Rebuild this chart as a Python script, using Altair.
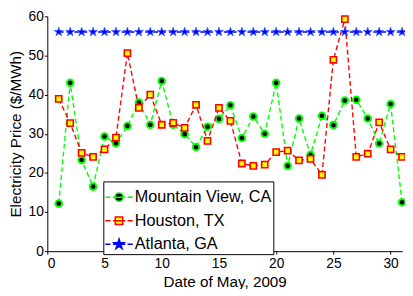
import altair as alt
import pandas as pd

days = list(range(1, 32))
cities = ["Mountain View, CA", "Houston, TX", "Atlanta, GA"]
mountain_view = [12.2, 43.0, 23.3, 16.5, 29.3, 27.6, 32.0, 38.0, 32.3, 43.5,
                 32.3, 29.9, 26.6, 31.8, 33.8, 37.3, 28.9, 34.4, 30.0, 43.0,
                 21.8, 33.9, 24.6, 34.6, 32.2, 38.5, 38.7, 33.9, 27.5, 37.6, 12.5]
houston = [38.9, 32.7, 25.1, 24.1, 26.0, 29.0, 50.6, 36.6, 40.0, 32.3,
           32.8, 31.5, 37.4, 28.2, 36.6, 33.3, 22.4, 21.8, 22.1, 25.3,
           25.7, 23.2, 23.6, 19.5, 48.9, 59.3, 24.1, 24.9, 32.9, 26.0, 24.1]
atlanta = [56.0, 56.0, 56.0, 56.0, 56.0, 56.0, 56.0, 56.0, 56.0, 56.0,
           56.0, 56.0, 56.0, 56.0, 56.0, 56.0, 56.0, 56.0, 56.0, 56.0,
           56.0, 56.0, 56.0, 56.0, 56.0, 56.0, 56.0, 56.0, 56.0, 56.0, 56.0]
x_ticks = [0, 5, 10, 15, 20, 25, 30]
y_ticks = [0, 10, 20, 30, 40, 50, 60]

series = [mountain_view, houston, atlanta]
frames = []
for name, vals in zip(cities, series):
    frames.append(pd.DataFrame({"day": days, "price": vals, "city": name}))
df = pd.concat(frames, ignore_index=True)

FONT = "Liberation Sans"
x = alt.X("day:Q", scale=alt.Scale(domain=[0, 31], nice=False, zero=False),
          axis=alt.Axis(values=x_ticks, title="Date of May, 2009", format="d"))
y = alt.Y("price:Q", scale=alt.Scale(domain=[0, 60], nice=False),
          axis=alt.Axis(values=y_ticks, title="Electricity Price ($/MWh)", format="d"))

STAR = ("M0,-1L0.2245,-0.309L0.9511,-0.309L0.3633,0.118L0.5878,0.809L0,0.382"
        "L-0.5878,0.809L-0.3633,0.118L-0.9511,-0.309L-0.2245,-0.309Z")

styles = {
    "Mountain View, CA": dict(line="#00ff00", shape="circle", fill="#000000", stroke="#00ff00", size=45, sw=2),
    "Houston, TX": dict(line="#ff0000", shape="square", fill="#ffff00", stroke="#ff0000", size=40, sw=1.6),
    "Atlanta, GA": dict(line="#0000ff", shape=STAR, fill="#0000ff", stroke="#4466ff", size=95, sw=0.8),
}

layers = []
for name in cities:
    s = styles[name]
    sub = alt.Chart(df).transform_filter(alt.datum.city == name)
    layers.append(sub.mark_line(color=s["line"], strokeDash=[5, 3], strokeWidth=1.4).encode(x=x, y=y))
    layers.append(sub.mark_point(shape=s["shape"], filled=True, fill=s["fill"], stroke=s["stroke"],
                                 strokeWidth=s["sw"], size=s["size"], opacity=1).encode(x=x, y=y))

dash = "M-1,0H-0.62M-0.45,0H0.45M0.62,0H1"
circle = dash + "M0.3,0A0.3,0.3,0,1,1,-0.3,0A0.3,0.3,0,1,1,0.3,0Z"
square = dash + "M-0.27,-0.27H0.27V0.27H-0.27Z"
star = dash + ("M0,-0.38L0.085,-0.117L0.361,-0.117L0.138,0.045L0.223,0.307L0,0.145"
               "L-0.223,0.307L-0.138,0.045L-0.361,-0.117L-0.085,-0.117Z")

leg = alt.Legend(orient="none", legendX=57, legendY=168, title=None,
                 strokeColor="black", fillColor="white", padding=1,
                 symbolSize=784, symbolStrokeWidth=1.5, symbolOpacity=1,
                 labelFontSize=16.5, labelFont=FONT, labelColor="black",
                 rowPadding=-13, labelOffset=1, cornerRadius=0)
legend_layer = alt.Chart(df).mark_point(opacity=0).encode(
    x=x, y=y,
    shape=alt.Shape("city:N", scale=alt.Scale(domain=cities, range=[circle, square, star]), legend=leg),
    fill=alt.Fill("city:N", scale=alt.Scale(domain=cities, range=["#000000", "#ffff00", "#0000ff"]), legend=leg),
    stroke=alt.Stroke("city:N", scale=alt.Scale(domain=cities, range=["#00ff00", "#ff0000", "#0000ff"]), legend=leg),
)

chart = alt.layer(*layers, legend_layer).properties(
    width=361, height=239,
    autosize=alt.AutoSizeParams(type="none"),
    padding={"left": 40, "top": 6, "right": 3, "bottom": 36},
).configure_view(stroke=None).configure_axis(
    grid=False, domainColor="black", tickColor="black", tickSize=3, domainWidth=1,
    labelFont=FONT, labelFontSize=14, labelColor="black", labelPadding=1,
    titleFont=FONT, titleFontSize=15.5, titleFontWeight="normal", titleColor="black",
).configure_axisX(titlePadding=4, labelPadding=3).configure_axisY(titlePadding=5)

chart.save("out.html", embed_options={"renderer": "svg", "actions": False})
